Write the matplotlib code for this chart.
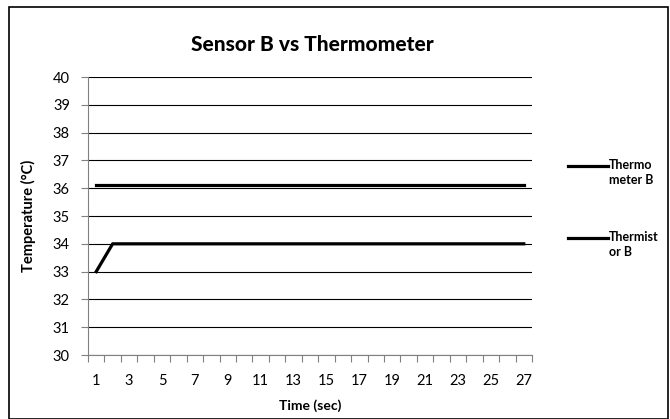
import numpy as np
import matplotlib
matplotlib.use('Agg')
from matplotlib import pyplot as plt
from matplotlib.patches import Rectangle

plt.rcParams['font.family'] = ['Lato', 'DejaVu Sans']

# data
seconds = list(range(1, 28))
thermometer_b = [36.1] * 27
thermistor_b = [33.0] + [34.0] * 26
y_ticks = list(range(30, 41))

figure = plt.figure(figsize=(6.7, 4.19), dpi=100)
axes = figure.add_axes([0.1313, 0.1527, 0.6627, 0.6635])

n = len(seconds)
xpos = np.arange(n) + 0.5
axes.plot(xpos, thermometer_b, color='black', linewidth=2.3)
axes.plot(xpos, thermistor_b, color='black', linewidth=2.3)

axes.set_xlim(0, n)
axes.set_ylim(30, 40)
axes.set_yticks(y_ticks)
axes.set_yticklabels([str(v) for v in y_ticks], fontsize=10.5)
axes.yaxis.grid(True, color='black', linewidth=0.8)
axes.set_axisbelow(True)

# category axis: ticks between categories, label every other one
axes.set_xticks(np.arange(n + 1))
axes.set_xticklabels([])
axes.set_xticks(xpos[::2], minor=True)
axes.set_xticklabels([str(s) for s in seconds[::2]], minor=True, fontsize=10.5)
axes.tick_params(axis='x', which='minor', length=0, pad=14)
axes.tick_params(axis='x', which='major', length=5, color='#808080', direction='out')
axes.tick_params(axis='y', length=5, color='#808080', direction='out', pad=8)

for side in ['top', 'right']:
    axes.spines[side].set_visible(False)
axes.spines['left'].set_color('#808080')
axes.spines['bottom'].set_color('#808080')

axes.set_xlabel('Time (sec)', fontsize=10, fontweight='bold', labelpad=8)
axes.set_ylabel('Temperature (°C)', fontsize=10.5, fontweight='bold', labelpad=12)
figure.text(0.466, 0.893, 'Sensor B vs Thermometer', ha='center', va='center',
            fontsize=15, fontweight='black')

# legend drawn by hand to match the layout
legend_items = [('Thermo\nmeter B', 36.8), ('Thermist\nor B', 34.2)]
for text, level in legend_items:
    yfig = 1 - (77 + (40 - level) * 27.8) / 419
    figure.add_artist(plt.Line2D([568 / 670, 608 / 670], [yfig, yfig],
                                 color='black', linewidth=2.3))
    figure.text(609 / 670, yfig + 0.017, text, ha='left', va='top',
                fontsize=9, fontweight='bold', linespacing=1.3)

figure.add_artist(Rectangle((9 / 670, 0.0), 659 / 670, 1 - 7 / 419,
                            transform=figure.transFigure, fill=False,
                            edgecolor='black', linewidth=1.2))

figure.savefig('out.png', dpi=100)
